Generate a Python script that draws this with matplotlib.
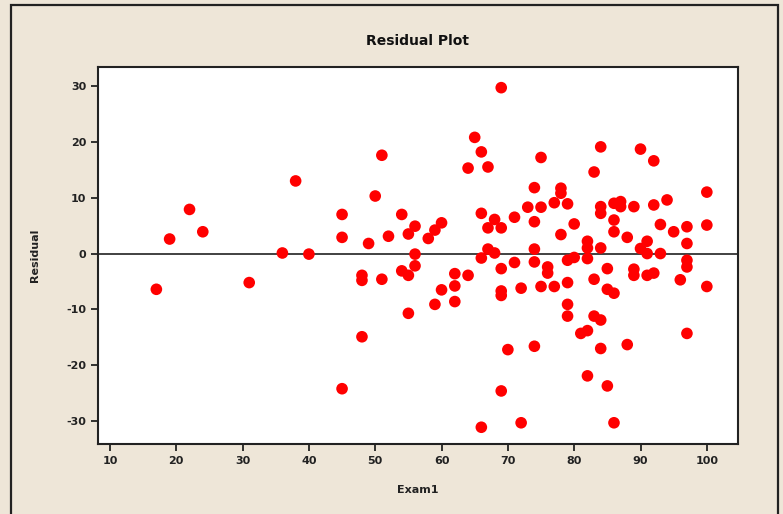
import matplotlib
matplotlib.use("Agg")
import matplotlib.pyplot as plt
from matplotlib.patches import Rectangle

plt.rcParams["axes.unicode_minus"] = False

# Exam1 score and residual
exam1 = [17, 19, 22, 24, 31, 36, 38, 40, 45, 45, 45, 48, 48, 48, 49, 50, 51, 51, 52, 54,
         54, 55, 55, 55, 56, 56, 56, 58, 59, 59, 60, 60, 62, 62, 62, 64, 64, 65, 66, 66,
         66, 66, 67, 67, 67, 68, 68, 69, 69, 69, 69, 69, 69, 70, 71, 71, 72, 72, 73, 74,
         74, 74, 74, 74, 75, 75, 75, 76, 76, 77, 77, 78, 78, 78, 79, 79, 79, 79, 79, 80,
         80, 81, 82, 82, 82, 82, 82, 83, 83, 83, 84, 84, 84, 84, 84, 84, 85, 85, 85, 86,
         86, 86, 86, 86, 87, 87, 88, 88, 89, 89, 89, 90, 90, 91, 91, 91, 92, 92, 92, 93,
         93, 94, 95, 96, 97, 97, 97, 97, 97, 100, 100, 100]
residual = [-6.4, 2.6, 7.9, 3.9, -5.2, 0.1, 13.0, -0.1, 7.0, 2.9, -24.2, -3.9, -4.8, -14.9, 1.8, 10.3, 17.6, -4.6, 3.1, 7.0,
            -3.1, 3.5, -3.9, -10.7, 4.9, -0.1, -2.2, 2.7, 4.2, -9.1, 5.5, -6.5, -3.6, -5.8, -8.6, 15.3, -3.9, 20.8, 18.2, 7.2,
            -0.8, -31.1, 15.5, 4.6, 0.8, 6.1, 0.1, 29.7, 4.6, -2.7, -6.7, -7.5, -24.6, -17.2, 6.5, -1.6, -6.2, -30.3, 8.3, 11.8,
            5.7, 0.8, -1.5, -16.6, 17.2, 8.3, -5.9, -2.4, -3.5, 9.1, -5.9, 11.7, 10.8, 3.4, 8.9, -1.2, -5.2, -9.1, -11.2, 5.3,
            -0.7, -14.3, 2.2, 1.0, -0.9, -13.8, -21.9, 14.6, -4.6, -11.2, 19.1, 8.4, 7.2, 1.0, -11.9, -17.0, -2.7, -6.4, -23.7, 9.0,
            6.0, 3.9, -7.1, -30.3, 9.3, 8.4, 2.9, -16.3, 8.4, -2.8, -3.9, 18.7, 0.9, 2.2, 0.0, -3.9, 16.6, 8.7, -3.5, 5.2,
            0.0, 9.6, 3.9, -4.7, 4.8, 1.8, -1.2, -2.4, -14.3, 11.0, 5.1, -5.9]

xticks = [10, 20, 30, 40, 50, 60, 70, 80, 90, 100]
yticks = [-30, -20, -10, 0, 10, 20, 30]

bg = "#EEE6D8"
fig = plt.figure(figsize=(7.83, 5.14), dpi=100, facecolor=bg)

# outer frame of the graph window
W, H = 783, 514
fig.patches.append(Rectangle((11 / W, -0.05), (778 - 11) / W, (H - 5) / H + 0.05,
                             transform=fig.transFigure, fill=False,
                             edgecolor="#222222", linewidth=1.6))

ax = fig.add_axes([98 / W, 1 - 444 / H, (738 - 98) / W, (444 - 67) / H])
ax.set_facecolor("white")
ax.scatter(exam1, residual, s=70, color="#FF0000", edgecolors="none", zorder=3)
ax.axhline(0, color="#333333", linewidth=1.3, zorder=2)

ax.set_xlim(8.2, 104.7)
ax.set_ylim(-34.1, 33.4)
ax.set_xticks(xticks)
ax.set_yticks(yticks)
ax.tick_params(direction="out", length=5, width=1.3, labelsize=8, colors="#222222")
for lab in ax.get_xticklabels() + ax.get_yticklabels():
    lab.set_fontweight("bold")
for sp in ax.spines.values():
    sp.set_linewidth(1.5)
    sp.set_color("#222222")

ax.set_title("Residual Plot", fontsize=10, fontweight="bold", pad=16, color="#111111")
ax.set_xlabel("Exam1", fontsize=8, fontweight="bold", labelpad=14, color="#222222")
ax.set_ylabel("Residual", fontsize=8, fontweight="bold", labelpad=10, color="#222222")
ax.yaxis.set_label_coords(-58 / 640, 0.5)

fig.savefig("out.png", dpi=100, facecolor=bg)
